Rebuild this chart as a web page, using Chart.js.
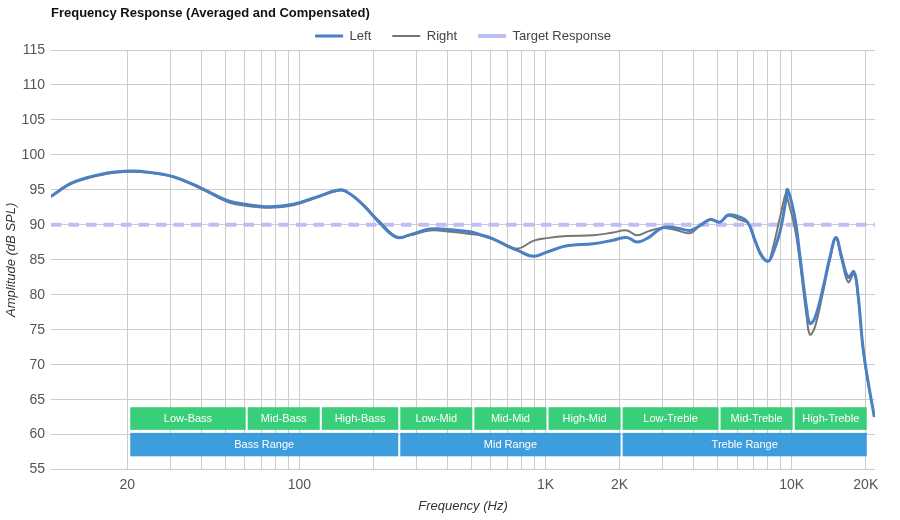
<!DOCTYPE html>
<html>
<head>
<meta charset="utf-8">
<script src="https://cdn.jsdelivr.net/npm/chart.js@4.4.0/dist/chart.umd.min.js"></script>
<style>
  html, body { margin: 0; padding: 0; background: #ffffff; }
  #wrap { width: 900px; height: 520px; }
</style>
</head>
<body>
<div id="wrap"><canvas id="c" width="900" height="520"></canvas></div>
<script>
// ---------------- data ----------------
const freqs = [9.8, 12.1, 16.6, 20.6, 24.9, 30.8, 39.7, 50.9, 61.4, 76.3, 94.6, 118, 147, 161, 182, 213, 249, 282, 340, 411, 494, 543, 613, 697, 775, 891, 1013, 1221, 1562, 1882, 2139, 2356, 2628, 2966, 3360, 3866, 4246, 4663, 5117, 5520, 6170, 6650, 7095, 7555, 8030, 8316, 8960, 9470, 9612, 10300, 10806, 11508, 11863, 12430, 13430, 14300, 15130, 15956, 16970, 17900, 18580, 19480, 20410, 21650];

const leftSPL = [94.1, 96.1, 97.4, 97.7, 97.5, 96.9, 95.3, 93.5, 92.9, 92.6, 92.95, 94.0, 95.0, 94.4, 92.8, 90.2, 88.2, 88.6, 89.4, 89.3, 89.0, 88.6, 88.0, 87.0, 86.3, 85.5, 86.1, 87.0, 87.3, 87.8, 88.2, 87.55, 88.2, 89.55, 89.6, 89.2, 89.9, 90.75, 90.4, 91.4, 91.1, 90.3, 87.8, 85.6, 84.8, 85.6, 89.0, 93.5, 95.05, 91.0, 85.5, 78.0, 75.9, 76.7, 81.1, 85.4, 88.2, 85.4, 82.5, 83.3, 80.2, 72.5, 67.7, 62.6];

const rightSPL = [94.0, 96.0, 97.3, 97.6, 97.4, 96.8, 95.2, 93.3, 92.7, 92.45, 92.8, 93.9, 94.9, 94.4, 92.9, 90.4, 88.3, 88.5, 89.2, 89.0, 88.7, 88.5, 87.9, 87.1, 86.6, 87.7, 88.1, 88.4, 88.5, 88.9, 89.2, 88.5, 89.1, 89.55, 89.3, 88.8, 89.9, 90.75, 90.4, 91.3, 90.7, 90.2, 87.6, 85.4, 84.8, 86.2, 91.0, 94.5, 93.8, 89.5, 84.6, 76.8, 74.3, 75.4, 80.5, 85.0, 88.0, 85.0, 81.8, 83.0, 79.8, 72.3, 67.5, 62.5];

const targetFreqs = [9.8, 21800];
const targetSPL = [90, 90];

const xTickValues = [20, 30, 40, 50, 60, 70, 80, 90, 100, 200, 300, 400, 500, 600, 700, 800, 900, 1000, 2000, 3000, 4000, 5000, 6000, 7000, 8000, 9000, 10000, 20000];
const xTickLabelValues = [20, 100, 1000, 2000, 10000, 20000];
const xTickLabelTexts = ['20', '100', '1K', '2K', '10K', '20K'];

const bandNames = ['Low-Bass', 'Mid-Bass', 'High-Bass', 'Low-Mid', 'Mid-Mid', 'High-Mid', 'Low-Treble', 'Mid-Treble', 'High-Treble'];
const bandFrom = [20, 60, 120, 250, 500, 1000, 2000, 5000, 10000];
const bandTo = [60, 120, 250, 500, 1000, 2000, 5000, 10000, 20000];

const rangeNames = ['Bass Range', 'Mid Range', 'Treble Range'];
const rangeFrom = [20, 250, 2000];
const rangeTo = [250, 2000, 20000];

// ---------------- chart ----------------
Chart.defaults.font.family = '"Liberation Sans", Arial, sans-serif';

const bandPlugin = {
  id: 'bands',
  beforeDatasetsDraw(chart) {
    const { ctx, scales: { x, y } } = chart;
    ctx.save();
    const drawRow = (names, from, to, vTop, vBot, color) => {
      const t = y.getPixelForValue(vTop);
      const b = y.getPixelForValue(vBot);
      names.forEach((n, i) => {
        const l = x.getPixelForValue(from[i]) + 3;
        const r = x.getPixelForValue(to[i]) + 1;
        ctx.fillStyle = color;
        ctx.fillRect(l, t, r - l, b - t);
        ctx.fillStyle = '#ffffff';
        ctx.font = '11px "Liberation Sans", Arial, sans-serif';
        ctx.textAlign = 'center';
        ctx.textBaseline = 'middle';
        ctx.fillText(n, (l + r) / 2, (t + b) / 2 + 0.5);
      });
    };
    drawRow(bandNames, bandFrom, bandTo, 63.92, 60.68, 'rgba(46,204,113,0.95)');
    drawRow(rangeNames, rangeFrom, rangeTo, 60.25, 56.9, 'rgba(52,152,219,0.95)');
    ctx.restore();
  }
};

const legendTweak = {
  id: 'legendTweak',
  beforeLayout(chart) {
    const lg = chart.legend;
    if (!lg || lg.__tw) return;
    lg.__tw = true;
    const fit = lg.fit, draw = lg.draw;
    lg.fit = function () { fit.call(this); this.height = 28.4; };
    lg.draw = function () {
      const t = this.top;
      this.top = t - 13.1;
      draw.call(this);
      this.top = t;
    };
  }
};

new Chart(document.getElementById('c'), {
  type: 'line',
  data: {
    datasets: [
      {
        label: 'Left',
        data: freqs.map((f, i) => ({ x: f, y: leftSPL[i] })),
        borderColor: '#4a80c4',
        backgroundColor: '#4a80c4',
        borderWidth: 3,
        pointRadius: 0,
        fill: false,
        tension: 0.4
      },
      {
        label: 'Right',
        data: freqs.map((f, i) => ({ x: f, y: rightSPL[i] })),
        borderColor: '#767676',
        backgroundColor: '#767676',
        borderWidth: 2,
        pointRadius: 0,
        fill: false,
        tension: 0.4
      },
      {
        label: 'Target Response',
        data: targetFreqs.map((f, i) => ({ x: f, y: targetSPL[i] })),
        borderColor: '#bebef6',
        backgroundColor: '#bebef6',
        borderWidth: 4,
        borderDash: [10.5, 7],
        pointRadius: 0,
        fill: false
      }
    ]
  },
  options: {
    responsive: false,
    animation: false,
    layout: { padding: { left: 0, right: 25, top: 0, bottom: 2.2 } },
    scales: {
      x: {
        type: 'logarithmic',
        min: 9.8,
        max: 21800,
        afterBuildTicks: (s) => { s.ticks = xTickValues.map(v => ({ value: v })); },
        ticks: {
          autoSkip: false,
          maxRotation: 0,
          padding: 7,
          color: '#555',
          font: { size: 14 },
          callback: (v) => {
            const k = xTickLabelValues.indexOf(v);
            return k >= 0 ? xTickLabelTexts[k] : '';
          }
        },
        grid: { color: '#cccccc', drawTicks: false },
        border: { display: false },
        title: {
          display: true,
          text: 'Frequency (Hz)',
          color: '#333',
          font: { size: 13, style: 'italic' },
          padding: { top: -2.2, bottom: 4 }
        }
      },
      y: {
        min: 55,
        max: 115,
        ticks: { stepSize: 5, padding: 6, color: '#555', font: { size: 14 } },
        grid: { color: '#cccccc', drawTicks: false },
        border: { display: false },
        title: {
          display: true,
          text: 'Amplitude (dB SPL)',
          color: '#333',
          font: { size: 13, style: 'italic' },
          padding: { top: 4, bottom: -4 }
        }
      }
    },
    plugins: {
      title: {
        display: true,
        text: 'Frequency Response (Averaged and Compensated)',
        align: 'start',
        fullSize: false,
        color: '#111',
        font: { size: 13, weight: 'bold' },
        padding: { top: 6, bottom: 0 }
      },
      legend: {
        display: true,
        position: 'top',
        fullSize: false,
        labels: {
          usePointStyle: true,
          pointStyle: 'line',
          pointStyleWidth: 28,
          padding: 21,
          color: '#444',
          font: { size: 13 }
        }
      },
      tooltip: { enabled: false }
    }
  },
  plugins: [bandPlugin, legendTweak]
});
</script>
</body>
</html>
